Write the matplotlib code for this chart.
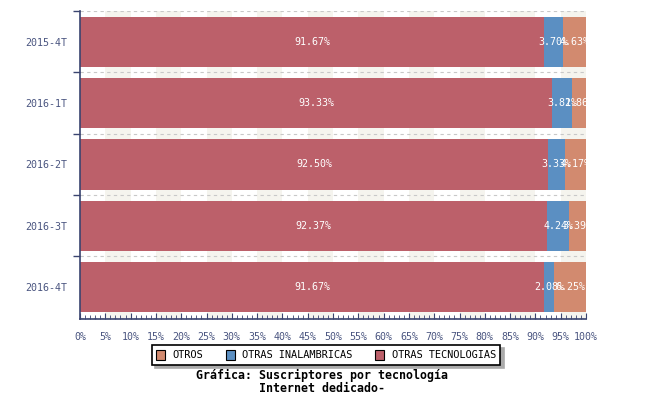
import matplotlib
matplotlib.use("Agg")
import matplotlib.pyplot as plt
import numpy as np
from matplotlib.patches import Patch

categories = ["2015-4T", "2016-1T", "2016-2T", "2016-3T", "2016-4T"]
otras_tecnologias = [91.67, 93.33, 92.50, 92.37, 91.67]
otras_inalambricas = [3.70, 3.81, 3.33, 4.24, 2.08]
otros = [4.63, 2.86, 4.17, 3.39, 6.25]
series_names = ["OTROS", "OTRAS INALAMBRICAS", "OTRAS TECNOLOGIAS"]
xtick_labels = [f"{v}%" for v in range(0, 101, 5)]

c_red = "#bc606a"
c_blue = "#5b8fc2"
c_orange = "#d28a6f"
txt_col = "#4a5580"
spine_col = "#3a4470"
mono = "DejaVu Sans Mono"

fig = plt.figure(figsize=(6.5, 4.0), dpi=100)
ax = fig.add_axes([80/650, 81/400, 506/650, 308/400])

y = np.arange(len(categories))
for k in range(1, 20, 2):
    ax.axvspan(k*5, k*5+5, color="#f5f4ee", zorder=0, lw=0)
for b in np.arange(-0.5, len(categories), 1.0):
    ax.axhline(b, color="#c8c8c8", ls=(0, (3, 3)), lw=0.8, zorder=0.5)

h = 0.82
left = np.zeros(len(categories))
for vals, col in [(otras_tecnologias, c_red), (otras_inalambricas, c_blue), (otros, c_orange)]:
    vals = np.array(vals)
    ax.barh(y, vals, left=left, height=h, color=col, zorder=2, lw=0)
    for yi, l, v in zip(y, left, vals):
        ax.text(l + v/2, yi, f"{v:.2f}%", ha="center", va="center", color="white",
                fontsize=7.2, family=mono, zorder=3)
    left = left + vals

ax.set_xlim(0, 100)
ax.set_ylim(len(categories) - 0.5 + 0.02, -0.5)
ax.set_yticks(y)
ax.set_yticklabels(categories, family=mono, fontsize=7.2, color=txt_col)
ax.set_yticks(np.arange(-0.5, len(categories) - 0.5, 1.0), minor=True)
ax.tick_params(axis="y", which="major", length=0, pad=9)
ax.tick_params(axis="y", which="minor", length=5, color=spine_col, width=1)

ax.set_xticks(np.arange(0, 101, 5))
ax.set_xticklabels(xtick_labels, family=mono, fontsize=7.2, color=txt_col)
ax.set_xticks(np.arange(0, 101, 1), minor=True)
ax.tick_params(axis="x", which="major", direction="in", length=4, color=spine_col, pad=9)
ax.tick_params(axis="x", which="minor", direction="in", length=3, color=spine_col)

for s in ["top", "right"]:
    ax.spines[s].set_visible(False)
ax.spines["left"].set_color(spine_col)
ax.spines["bottom"].set_color(spine_col)
ax.spines["left"].set_linewidth(1.2)
ax.spines["bottom"].set_linewidth(1.2)

handles = [Patch(facecolor=c, edgecolor="black", lw=0.8) for c in [c_orange, c_blue, c_red]]
leg = fig.legend(handles, series_names, loc="center", bbox_to_anchor=(326/650, 1 - 355/400),
                 ncol=3, frameon=True, fancybox=False,
                 shadow={"ox": 2.5, "oy": -2.5, "color": "#aaaaaa", "alpha": 1.0},
                 edgecolor="black",
                 prop={"family": mono, "size": 7.4}, handlelength=0.9, handleheight=1.2,
                 handletextpad=0.7, columnspacing=2.2, borderpad=0.45, borderaxespad=0)
leg.get_frame().set_linewidth(1.2)
leg.set_zorder(2)

fig.text(322/650, 1 - 375/400, "Gráfica: Suscriptores por tecnología", ha="center", va="center",
         family=mono, fontsize=8.4, fontweight="bold", zorder=10)
fig.text(322/650, 1 - 389/400, "Internet dedicado-", ha="center", va="center",
         family=mono, fontsize=8.4, fontweight="bold", zorder=10)

fig.savefig("out.png", dpi=100)
